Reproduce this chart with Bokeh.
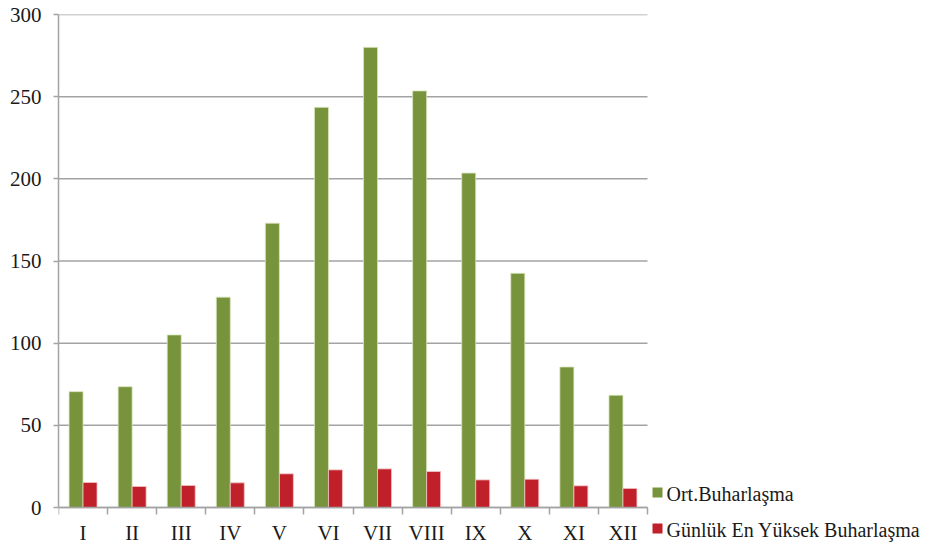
from bokeh.plotting import figure
from bokeh.models import Range1d, FixedTicker, ColumnDataSource, LinearAxis
from bokeh.core.properties import value
from bokeh.embed import file_html
from bokeh.resources import INLINE
import numpy as np

months = ["I", "II", "III", "IV", "V", "VI", "VII", "VIII", "IX", "X", "XI", "XII"]
ort_buharlasma = [70.5, 73.5, 105, 128, 173, 243.5, 280, 253.5, 203.5, 142.5, 85.5, 68.3]
gunluk_en_yuksek = [15.2, 12.8, 13.4, 15.0, 20.5, 22.9, 23.5, 21.9, 16.8, 17.2, 13.2, 11.6]
series_names = ["Ort.Buharlaşma", "Günlük En Yüksek Buharlaşma"]
y_ticks = [0, 50, 100, 150, 200, 250, 300]

GREEN = "#77933C"
RED = "#C0202A"
GRID = "#A3A3A3"
FONT = "Liberation Serif"
LEG_FONT = "'Liberation Serif', 'Times New Roman', serif"
TXT = "#1a1a1a"

W, H = 940, 544
LEFT, TOP = 58, 14
PLOT_RIGHT, PLOT_BOTTOM = 647, 507   # where the chart area ends in pixels

n = len(months)
ymax = 300
centers = np.arange(n) + 0.5
bw = 0.285

# pixel -> data helpers (the frame spans the whole canvas so the legend is not clipped)
def dx(px):
    return (px - LEFT) / (PLOT_RIGHT - LEFT) * n

def dy(py):
    return (PLOT_BOTTOM - py) / (PLOT_BOTTOM - TOP) * ymax

src = ColumnDataSource(dict(
    xg=centers - bw / 2, xr=centers + bw / 2,
    g=ort_buharlasma, r=gunluk_en_yuksek,
))

p = figure(width=W, height=H, output_backend="svg", toolbar_location=None,
           x_range=Range1d(0, dx(W)), y_range=Range1d(dy(H), ymax),
           x_axis_type=None,
           min_border_left=LEFT, min_border_right=0, min_border_top=TOP, min_border_bottom=0)
p.outline_line_color = None
p.background_fill_color = "white"
p.border_fill_color = "white"
p.xgrid.visible = False
p.ygrid.visible = False

# horizontal gridlines limited to the chart area
p.segment(x0=0, x1=n, y0=y_ticks, y1=y_ticks, line_color=GRID, line_width=1.5)

rg = p.vbar(x="xg", top="g", width=bw, bottom=0, source=src, fill_color=GREEN,
            line_color="#D8E4BC", line_width=0.8)
rr = p.vbar(x="xr", top="r", width=bw, bottom=0, source=src, fill_color=RED,
            line_color="#F2C4C4", line_width=0.8)

# y axis
p.yaxis.bounds = (0, ymax)
p.yaxis.ticker = FixedTicker(ticks=y_ticks, minor_ticks=[])
p.yaxis.axis_line_color = GRID
p.yaxis.axis_line_width = 1.5
p.yaxis.major_tick_line_color = GRID
p.yaxis.major_tick_line_width = 1.5
p.yaxis.major_tick_out = 5
p.yaxis.major_tick_in = 0
p.yaxis.major_label_standoff = 12
p.yaxis.major_label_text_font = FONT
p.yaxis.major_label_text_font_size = "21px"
p.yaxis.major_label_text_color = TXT

# x axis at y=0: labels at centers, ticks at category boundaries
xa = LinearAxis(fixed_location=0, bounds=(0, n))
xa.ticker = FixedTicker(ticks=list(centers), minor_ticks=list(range(n + 1)))
xa.major_label_overrides = {float(c): m for c, m in zip(centers, months)}
xa.axis_line_color = GRID
xa.axis_line_width = 1.5
xa.major_tick_line_color = None
xa.major_tick_out = 0
xa.major_tick_in = 0
xa.minor_tick_line_color = GRID
xa.minor_tick_line_width = 1.5
xa.minor_tick_out = 7
xa.minor_tick_in = 0
xa.major_label_standoff = 6
xa.major_label_text_font = FONT
xa.major_label_text_font_size = "21px"
xa.major_label_text_color = TXT
p.add_layout(xa, "below")

# legend (bottom right, outside the chart area)
leg_colors = [GREEN, RED]
leg_rows = [492, 528]
leg = ColumnDataSource(dict(
    mx=[dx(657)] * 2, tx=[dx(666)] * 2,
    my=[dy(r) for r in leg_rows], ty=[dy(r + 1) for r in leg_rows],
    name=series_names, color=leg_colors,
))
p.scatter(x="mx", y="my", marker="square", size=10, fill_color="color",
          line_color=None, source=leg)
p.text(x="tx", y="ty", text="name", source=leg, text_baseline="middle", text_align="left",
       text_font=value(LEG_FONT), text_font_size="20px", text_color=TXT)

open("out.html", "w").write(file_html(p, INLINE))
